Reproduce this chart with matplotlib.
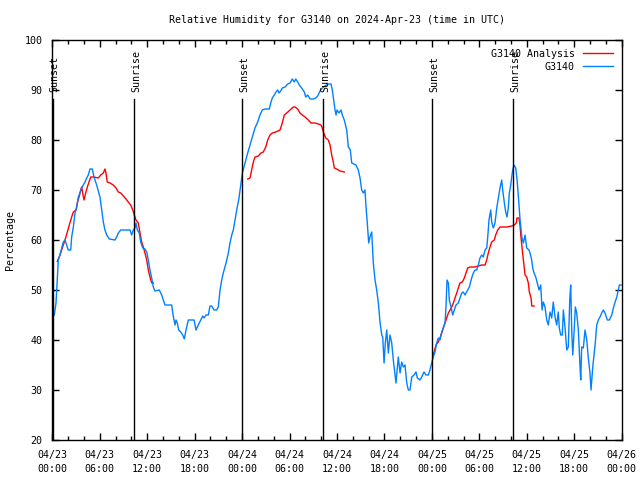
import matplotlib
matplotlib.use("Agg")
import matplotlib.pyplot as plt
import numpy as np

# hours since 2024-04-23 00:00 UTC
obs_hours = [0.25, 0.47, 0.56, 0.68, 0.76, 0.97, 1.19, 1.39, 1.61, 1.82, 2.02, 2.33, 2.45, 2.66, 2.87,
             3.09, 3.29, 3.50, 3.72, 3.92, 4.14, 4.35, 4.55, 4.77, 5.06, 5.27, 5.61, 6.03, 6.25, 6.45,
             6.66, 6.88, 7.21, 7.93, 8.14, 8.35, 8.65, 9.19, 9.83, 10.04, 10.24, 10.46, 10.58, 10.75,
             11.00, 11.18, 11.43, 11.72, 11.94, 12.14, 12.35, 12.57, 12.77, 12.99, 13.53, 13.83, 14.04,
             14.25, 15.10, 15.23, 15.39, 15.52, 15.64, 15.81, 15.98, 16.24, 16.49, 16.69, 16.91, 17.20,
             17.92, 18.17, 18.46, 18.77, 19.02, 19.18, 19.44, 19.73, 19.94, 20.16, 20.45, 20.79, 20.99,
             21.21, 21.42, 21.62, 21.97, 22.26, 22.47, 22.69, 22.89, 23.10, 23.32, 23.61, 23.86, 24.03,
             24.37, 24.71, 25.00, 25.29, 25.63, 25.97, 26.26, 26.56, 26.90, 27.44, 27.62, 27.82, 28.07,
             28.29, 28.50, 28.67, 28.88, 29.08, 29.43, 29.77, 30.06, 30.35, 30.60, 30.78, 31.03, 31.23,
             31.53, 31.87, 32.04, 32.30, 32.59, 33.00, 33.31, 33.56, 33.85, 34.14, 34.48, 34.90, 35.24,
             35.41, 35.58, 35.75, 35.88, 36.00, 36.26, 36.51, 36.67, 36.92, 37.23, 37.43, 37.68, 37.86,
             38.40, 38.69, 38.91, 39.12, 39.33, 39.54, 39.67, 39.83, 40.01, 40.17, 40.39, 40.59, 40.81,
             41.02, 41.23, 41.45, 41.66, 41.78, 41.95, 42.11, 42.29, 42.49, 42.70, 42.92, 43.12, 43.46,
             43.75, 43.97, 44.18, 44.39, 44.60, 44.82, 45.02, 45.23, 45.45, 45.74, 45.99, 46.16, 46.50,
             46.71, 47.00, 47.25, 47.54, 47.76, 47.97, 48.17, 48.39, 48.60, 48.81, 49.02, 49.24, 49.44,
             49.66, 49.78, 49.91, 50.08, 50.20, 50.42, 50.63, 50.83, 51.05, 51.34, 51.55, 51.77, 51.97,
             52.19, 52.53, 52.73, 53.03, 53.24, 53.45, 53.67, 53.87, 54.08, 54.30, 54.50, 54.72, 54.93,
             55.06, 55.22, 55.44, 55.56, 55.77, 55.98, 56.20, 56.40, 56.61, 56.83, 56.95, 57.16, 57.33,
             57.50, 57.66, 57.79, 57.97, 58.09, 58.22, 58.38, 58.60, 58.77, 58.94, 59.15, 59.37, 59.57,
             59.78, 59.99, 60.28, 60.41, 60.62, 60.75, 60.92, 61.13, 61.33, 61.55, 61.76, 61.93, 62.09,
             62.30, 62.52, 62.72, 62.94, 63.15, 63.35, 63.57, 63.78, 63.98, 64.11, 64.29, 64.49, 64.62,
             64.83, 65.05, 65.25, 65.43, 65.55, 65.68, 65.81, 65.97, 66.14, 66.31, 66.52, 66.73, 66.82,
             66.94, 67.15, 67.36, 67.58, 67.78, 67.99, 68.12, 68.34, 68.50, 68.66, 68.84, 69.04, 69.26,
             69.47, 69.68, 69.89, 70.18, 70.44, 70.74, 70.95, 71.17, 71.38, 71.58, 71.71, 71.92]
obs_rh = [45, 47.4, 50, 53.4, 56, 57, 58.4, 59.6, 60, 59, 58, 58, 60.6, 62.6, 65.4,
          66.6, 68.6, 69.4, 70.4, 71, 71.6, 72.4, 73, 74.2, 74.2, 72.6, 71, 68.6, 66, 63.6,
          62, 61, 60.2, 60, 60.6, 61.4, 62, 62, 62, 61, 62, 62.4, 63.4, 62,
          61.4, 59.6, 58.4, 58.2, 57.6, 56, 54, 52.4, 50.6, 49.8, 50, 49, 48,
          47, 47, 45.4, 44, 43, 44, 43.4, 42, 41.6, 41, 40.2, 42, 44,
          44, 42, 43, 44, 44.8, 44.4, 45, 45, 46.8, 46.8, 46, 46, 46.6,
          50, 52, 53.4, 55.4, 57.4, 59.4, 61, 62, 64, 66, 68.4, 71.4, 73.4,
          75.4, 77.4, 79, 80.6, 82.4, 83.6, 85, 86, 86.2, 86.2, 87.4, 88.4, 89,
          89.6, 90, 89.4, 89.8, 90.4, 90.6, 91.2, 91.4, 92.2, 91.6, 92.2, 91.6, 91,
          90.4, 89.6, 88.6, 89, 88.2, 88.2, 88.4, 88.8, 89.8, 90.4, 90.8, 91.2, 91.2,
          90, 88, 86, 85, 86, 85.4, 86, 85, 84, 82, 78.6, 78, 75.4,
          75, 74, 72.4, 70, 69.4, 70, 66.6, 63.4, 59.4, 60.6, 61.6, 55.4, 52,
          50, 47.4, 43.4, 41, 40.6, 35.4, 39.4, 42, 37.4, 41, 39.4, 36, 31.4,
          36.6, 33.4, 35.6, 34.6, 35, 31.4, 30, 30, 32.6, 33, 33.6, 32.4, 32,
          32.6, 33.6, 33, 33, 34, 35.4, 36.6, 37.6, 39.4, 40.4, 40, 41.6, 42.4,
          43.4, 46.6, 52, 51.4, 48, 46.6, 45, 46, 47, 47.4, 48.4, 49.4, 49.6,
          49, 50, 50.6, 52.4, 53.4, 54, 54, 55, 56.4, 57, 56.6, 58, 58.4,
          60.6, 64, 66, 63.6, 62.4, 63.4, 66.4, 68.4, 70.4, 72, 70, 67.4, 65.6,
          64.6, 66.4, 69.4, 71, 72.6, 74, 75, 74.4, 72, 68.6, 64, 60.6, 59.4,
          61, 58.4, 58, 57.4, 56, 54.4, 53.4, 52.6, 51.4, 50, 51, 46, 47.6,
          46.6, 44, 43, 45.6, 44.4, 47.6, 44.6, 43, 45.6, 42.4, 41, 41, 46,
          42.6, 38, 38.6, 48, 51, 42, 37, 41.4, 46.6, 45.4, 42, 34.6, 32,
          38.6, 38.4, 42, 40, 36.4, 33.4, 30, 34.6, 37, 39.4, 43, 44, 44.6,
          45.4, 46, 45.4, 44, 44, 45, 46.4, 47.6, 48.6, 50, 51, 51]

# analysis runs (three separate pieces)
ana1_hours = [0.63, 0.97, 1.39, 1.61, 1.90, 2.15, 2.45, 2.66, 3.00, 3.16, 3.38, 3.59, 3.72, 3.84,
              4.01, 4.22, 4.43, 4.64, 4.86, 5.27, 5.82, 6.12, 6.45, 6.66, 6.79, 6.95, 7.30, 7.71,
              8.06, 8.35, 8.65, 8.98, 9.32, 9.61, 9.91, 10.17, 10.37, 10.58, 10.87, 11.09, 11.30,
              11.51, 11.72, 11.94, 12.14, 12.35, 12.57, 12.77]
ana1_rh = [55.7, 57, 59, 60, 61.6, 63, 64.6, 65.6, 66, 67.4, 68.6, 70, 70.6, 69.4,
           68, 69.4, 70.6, 71.6, 72.6, 72.6, 72.4, 73, 73.4, 74.2, 73.4, 71.6, 71.4, 71,
           70.4, 69.6, 69.4, 68.8, 68.2, 67.6, 67, 66, 65, 64, 63.4, 61.4, 59.6,
           58.6, 57.4, 56, 54, 52.6, 51.4, 51.4]
ana2_hours = [24.71, 25.00, 25.21, 25.42, 25.63, 26.05, 26.39, 26.68, 26.99, 27.24, 27.53, 27.82,
              28.25, 28.80, 29.08, 29.34, 29.64, 30.06, 30.48, 30.69, 31.03, 31.32, 31.61, 31.96,
              32.37, 32.71, 33.22, 33.64, 33.98, 34.14, 34.32, 34.57, 34.90, 35.12, 35.33, 35.53,
              35.66, 35.96, 36.38, 36.92]
ana2_rh = [72.2, 72.4, 74, 75.6, 76.6, 76.8, 77.4, 77.6, 78.6, 80, 81, 81.4,
           81.6, 82, 83.4, 85, 85.4, 86, 86.6, 86.6, 86.2, 85.4, 85, 84.6,
           84, 83.4, 83.4, 83.2, 83, 82.4, 81.4, 80.4, 80, 79, 77, 75.6,
           74.4, 74.2, 73.8, 73.6]
ana3_hours = [48.17, 48.52, 48.81, 49.02, 49.24, 49.44, 49.66, 49.87, 50.08, 50.29, 50.51, 50.71,
              50.92, 51.14, 51.34, 51.55, 51.85, 52.10, 52.31, 52.53, 52.82, 53.45, 53.87, 54.30,
              54.72, 54.93, 55.13, 55.35, 55.56, 55.89, 56.07, 56.32, 56.61, 57.46, 58.09, 58.42,
              58.67, 58.76, 59.01, 59.14, 59.26, 59.43, 59.61, 59.78, 59.99, 60.19, 60.32, 60.54,
              60.63, 60.92]
ana3_rh = [37, 39, 39.6, 40.4, 41.4, 42.4, 43.4, 44.4, 45.4, 46, 46.6, 47.4,
           48.4, 49.4, 50.4, 51.4, 51.6, 52.4, 53.4, 54.4, 54.6, 54.6, 54.8, 55,
           55, 56, 57.4, 58.6, 59.6, 60, 61, 62, 62.6, 62.6, 62.8, 63,
           63.4, 64.4, 64.4, 63, 60.6, 58, 55.4, 53, 52.6, 51.4, 49.6, 48.4,
           46.8, 46.8]

sun_hours = [0.05, 10.37, 24.03, 34.27, 48.05, 58.30]
sun_labels = ["Sunset", "Sunrise", "Sunset", "Sunrise", "Sunset", "Sunrise"]

tick_hours = list(range(0, 73, 6))
tick_labels = ["04/23\n00:00", "04/23\n06:00", "04/23\n12:00", "04/23\n18:00",
               "04/24\n00:00", "04/24\n06:00", "04/24\n12:00", "04/24\n18:00",
               "04/25\n00:00", "04/25\n06:00", "04/25\n12:00", "04/25\n18:00",
               "04/26\n00:00"]

plt.rcParams['font.family'] = ['DejaVu Sans Mono']
plt.rcParams['font.size'] = 7.2

fig = plt.figure(figsize=(6.4, 4.8), dpi=100)
ax = fig.add_axes([52.3 / 640, 40 / 480, 569.4 / 640, 400 / 480])

red = '#ff0000'
blue = '#0080ff'
ax.plot(ana1_hours, ana1_rh, color=red, lw=1.0, label='G3140 Analysis')
ax.plot(ana2_hours, ana2_rh, color=red, lw=1.0)
ax.plot(ana3_hours, ana3_rh, color=red, lw=1.0)
ax.plot(obs_hours, obs_rh, color=blue, lw=1.0, label='G3140')

for h, lab in zip(sun_hours, sun_labels):
    ax.plot([h, h], [20, 88.2], color='black', lw=1.0)
    ax.text(h + 0.2, 89.6, lab, rotation=90, ha='center', va='bottom', fontsize=7.2)

ax.set_xlim(0, 72)
ax.set_ylim(20, 100)
ax.set_xticks(tick_hours)
ax.set_xticklabels(tick_labels, linespacing=1.5)
ax.set_xticks(np.arange(0, 73, 2), minor=True)
ax.set_yticks(np.arange(20, 101, 10))
ax.tick_params(direction='in', top=True, right=True, length=5, width=1, pad=7)
ax.tick_params(which='minor', direction='in', top=True, right=True, length=3, width=1)
for s in ax.spines.values():
    s.set_linewidth(1.0)

ax.set_ylabel('Percentage', labelpad=7)
ax.set_title('Relative Humidity for G3140 on 2024-Apr-23 (time in UTC)', fontsize=7.2, pad=12)
ax.legend(loc='upper right', frameon=False, markerfirst=False, handlelength=3.0,
          borderaxespad=0.5, labelspacing=0.3, handletextpad=0.8)

fig.savefig('out.png', dpi=100)
